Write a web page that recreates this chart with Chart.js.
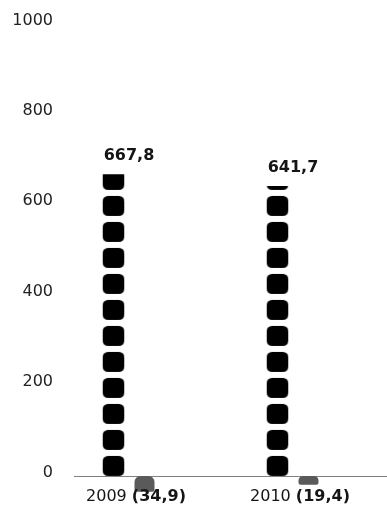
<!DOCTYPE html>
<html>
<head>
<meta charset="utf-8">
<script src="https://cdn.jsdelivr.net/npm/chart.js@4/dist/chart.umd.min.js"></script>
<style>
    html, body { margin: 0; padding: 0; background: #fff; }
    #contenedor { width: 387px; height: 524px; }
</style>
</head>
<body>
<div id="contenedor"><canvas id="grafico" width="387" height="524"></canvas></div>
<script>
// datos
const anios = ["2009", "2010"];
const valores = [667.8, 641.7];
const negativos = [-34.9, -19.4];
const marcasEje = [0, 200, 400, 600, 800, 1000];

const fuente = "'DejaVu Sans', sans-serif";
const fmt = v => v.toFixed(1).replace(".", ",");

// patron de puntos (cuadrados redondeados apilados)
const paso = 26, altoPunto = 20, anchoPunto = 22;
const tile = document.createElement("canvas");
tile.width = 80;
tile.height = paso;
const tctx = tile.getContext("2d");
tctx.fillStyle = "#000";
tctx.beginPath();
tctx.roundRect(0, paso - altoPunto, anchoPunto, altoPunto, 5.5);
tctx.fill();
const patrones = anios.map(() => tctx.createPattern(tile, "repeat"));

const pluginPuntos = {
    id: "puntos",
    beforeDatasetsDraw(chart) {
        const ctx = chart.ctx;
        const ys = chart.scales.y;
        // linea del cero
        const y0 = Math.round(ys.getPixelForValue(0)) + 0.5;
        ctx.save();
        ctx.strokeStyle = "#808080";
        ctx.lineWidth = 1.2;
        ctx.beginPath();
        ctx.moveTo(74, y0);
        ctx.lineTo(chart.width, y0);
        ctx.stroke();

        // etiquetas del eje y (alineadas a la derecha, algo por encima de la marca)
        ctx.fillStyle = "#222";
        ctx.font = "16px " + fuente;
        ctx.textAlign = "right";
        ctx.textBaseline = "middle";
        marcasEje.forEach(v => {
            ctx.fillText(String(v), 53, ys.getPixelForValue(v) - 3.5);
        });
        ctx.restore();

        // alinear el patron con cada barra
        chart.getDatasetMeta(0).data.forEach((el, i) => {
            const p = el.getProps(["x", "width", "base"], true);
            patrones[i].setTransform(new DOMMatrix().translate(p.x - p.width / 2, p.base));
        });
    },
    afterDatasetsDraw(chart) {
        const ctx = chart.ctx;
        const xs = chart.scales.x;
        ctx.save();
        ctx.fillStyle = "#151515";
        ctx.textBaseline = "middle";

        // valores encima de las barras
        ctx.font = "bold 16px " + fuente;
        ctx.textAlign = "center";
        chart.getDatasetMeta(0).data.forEach((el, i) => {
            ctx.fillText(fmt(valores[i]), xs.getPixelForValue(i), el.y - 18);
        });

        // etiquetas del eje x: año + (negativo) en negrita
        ctx.textAlign = "left";
        anios.forEach((a, i) => {
            const t1 = a + " ";
            const t2 = "(" + fmt(Math.abs(negativos[i])) + ")";
            ctx.font = "16px " + fuente;
            const w1 = ctx.measureText(t1).width;
            ctx.font = "bold 16px " + fuente;
            const w2 = ctx.measureText(t2).width;
            const x0 = xs.getPixelForValue(i) + 7 - (w1 + w2) / 2;
            ctx.font = "16px " + fuente;
            ctx.fillText(t1, x0, 497);
            ctx.font = "bold 16px " + fuente;
            ctx.fillText(t2, x0 + w1, 497);
        });
        ctx.restore();
    }
};

new Chart(document.getElementById("grafico").getContext("2d"), {
    type: "bar",
    data: {
        labels: anios,
        datasets: [{
            label: "Resultado",
            data: valores,
            backgroundColor: c => patrones[c.dataIndex] || "#000",
            borderWidth: 0,
            barPercentage: 0.71,
            categoryPercentage: 0.378
        }, {
            label: "Negativo",
            data: negativos,
            backgroundColor: "#5a5a5a",
            borderWidth: 0,
            borderSkipped: false,
            borderRadius: { topLeft: 6, topRight: 6, bottomLeft: 2, bottomRight: 2 },
            barPercentage: 0.645,
            categoryPercentage: 0.378
        }]
    },
    options: {
        responsive: false,
        animation: false,
        devicePixelRatio: 1,
        layout: { padding: { top: 24, right: 12, bottom: 30, left: 0 } },
        plugins: {
            legend: { display: false },
            tooltip: { enabled: false }
        },
        scales: {
            x: {
                display: false,
                grid: { display: false }
            },
            y: {
                min: -40,
                max: 1000,
                afterBuildTicks: s => { s.ticks = marcasEje.map(v => ({ value: v })); },
                afterFit: s => { s.width = 47; },
                grid: { display: false },
                border: { display: false },
                ticks: { display: false }
            }
        }
    },
    plugins: [pluginPuntos]
});
</script>
</body>
</html>
